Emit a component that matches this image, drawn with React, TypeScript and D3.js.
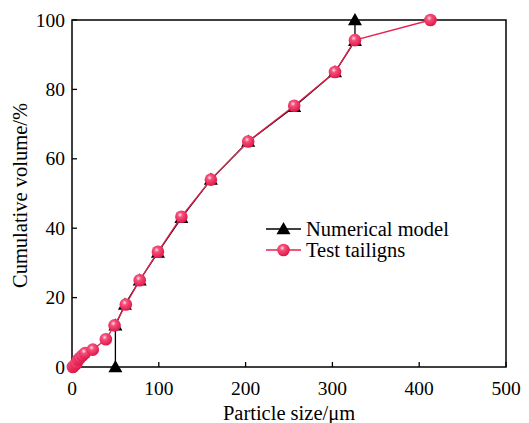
import React from "react";
import * as d3 from "d3";

const numX = [50, 50, 61, 78, 99, 126, 160, 203, 256, 303, 326, 326];
const numY = [0, 12, 18, 25, 33, 43, 54, 65, 75, 85, 94, 100];
const testX = [1, 3, 5, 7, 9, 12, 15, 24, 39, 49, 62, 78, 99, 126, 160, 203, 256, 303, 326, 413];
const testY = [0, 0.5, 1, 2, 2.6, 3.3, 4, 5, 8, 12, 18, 25, 33.2, 43.3, 54, 65, 75.3, 85, 94.2, 100];
const xTicks = [0, 100, 200, 300, 400, 500];
const yTicks = [0, 20, 40, 60, 80, 100];

export default function App() {
  const W = 529, H = 423;
  const L = 72, R = 506, T = 20, B = 367;
  const x = d3.scaleLinear().domain([0, 500]).range([L, R]);
  const y = d3.scaleLinear().domain([0, 100]).range([B, T]);
  const ptLine = d3.line<[number, number]>().x(d => x(d[0])).y(d => y(d[1]));
  const numPts: [number, number][] = numX.map((v, i) => [v, numY[i]]);
  const testPts: [number, number][] = testX.map((v, i) => [v, testY[i]]);
  const font = "'Liberation Serif', 'Times New Roman', serif";
  const red = "#e8204f";
  const tri = (cx: number, cy: number, s = 7) => `M${cx},${cy - s}L${cx + s},${cy + s * 0.75}L${cx - s},${cy + s * 0.75}Z`;
  return (
    <svg width={W} height={H} style={{ position: "absolute", left: 0, top: 0 }} fontFamily={font}>
      <defs>
        <radialGradient id="ball" cx="0.4" cy="0.35" r="0.65">
          <stop offset="0" stopColor="#ffe0ea" />
          <stop offset="0.3" stopColor="#f5507a" />
          <stop offset="1" stopColor="#e0164a" />
        </radialGradient>
      </defs>
      <rect x={0} y={0} width={W} height={H} fill="#fff" />
      <rect x={L} y={T} width={R - L} height={B - T} fill="none" stroke="#000" strokeWidth={1.5} />
      {xTicks.map(t => (
        <g key={"x" + t}>
          <line x1={x(t)} x2={x(t)} y1={B} y2={B - 5} stroke="#000" strokeWidth={1.3} />
          <text x={x(t)} y={B + 28} fontSize={19.5} textAnchor="middle">{t}</text>
        </g>
      ))}
      {yTicks.map(t => (
        <g key={"y" + t}>
          <line x1={L} x2={L + 5} y1={y(t)} y2={y(t)} stroke="#000" strokeWidth={1.3} />
          <text x={L - 7} y={y(t) + 6.5} fontSize={19.5} textAnchor="end">{t}</text>
        </g>
      ))}
      <text x={(L + R) / 2} y={420} fontSize={20.5} textAnchor="middle">Particle size/μm</text>
      <text transform={`translate(27,${(T + B) / 2 + 2}) rotate(-90)`} fontSize={20.5} textAnchor="middle">Cumulative volume/%</text>
      <path d={ptLine(numPts) || ""} fill="none" stroke="#000" strokeWidth={1.3} />
      {numPts.map((p, i) => <path key={"t" + i} d={tri(x(p[0]), y(p[1]))} fill="#000" />)}
      <path d={ptLine(testPts) || ""} fill="none" stroke={red} strokeWidth={1.3} />
      {testPts.map((p, i) => <circle key={"c" + i} cx={x(p[0])} cy={y(p[1])} r={6.3} fill="url(#ball)" />)}
      <line x1={266} x2={301} y1={229} y2={229} stroke="#000" strokeWidth={1.3} />
      <path d={tri(283.5, 229)} fill="#000" />
      <text x={306} y={236} fontSize={20.5}>Numerical model</text>
      <line x1={266} x2={301} y1={250} y2={250} stroke={red} strokeWidth={1.3} />
      <circle cx={283.5} cy={250} r={6.3} fill="url(#ball)" />
      <text x={306} y={257} fontSize={20.5}>Test tailigns</text>
    </svg>
  );
}
